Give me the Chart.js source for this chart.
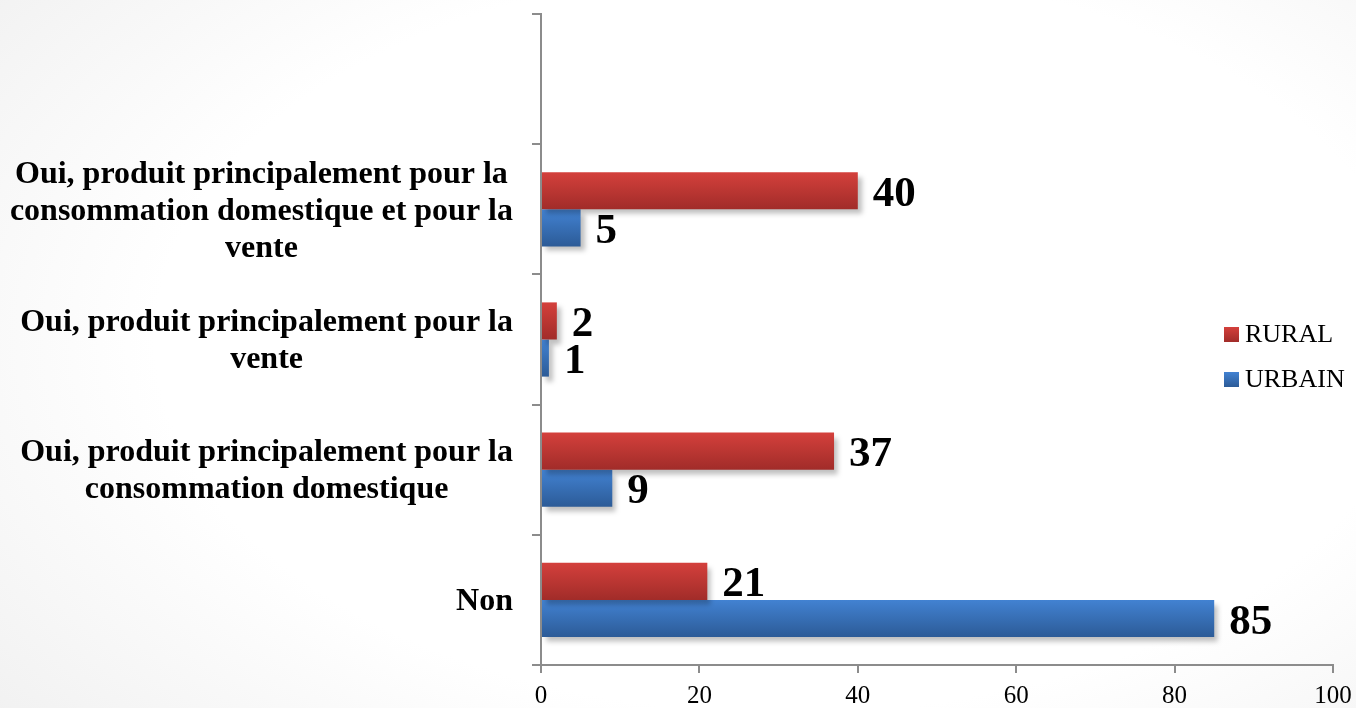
<!DOCTYPE html>
<html><head><meta charset="utf-8">
<script src="https://cdn.jsdelivr.net/npm/chart.js@4/dist/chart.umd.min.js"></script>
<style>
html,body{margin:0;padding:0;}
body{width:1356px;height:708px;background:radial-gradient(ellipse 75% 85% at 58% 48%, #ffffff 62%, #f1f1f1 100%);}
#wrap{width:1356px;height:708px;position:relative;}
</style></head>
<body><div id="wrap"><canvas id="c" width="1356" height="708"></canvas></div>
<script>
const categories = [
  "",
  ["Oui, produit principalement pour la", "consommation domestique et pour la", "vente"],
  ["Oui, produit principalement pour la", "vente"],
  ["Oui, produit principalement pour la", "consommation domestique"],
  "Non"
];
const seriesNames = ["RURAL", "URBAIN"];
const rural = [null, 40, 2, 37, 21];
const urbain = [null, 5, 1, 9, 85];
const xTicks = [0, 20, 40, 60, 80, 100];

const colors = {
  RURAL: ["#d4403c", "#a12c29"],
  URBAIN: ["#4282d2", "#2c5b97"]
};
const FONT = "'Liberation Serif','Times New Roman',serif";

const gradientPlugin = {
  id: 'grad',
  beforeDatasetsDraw(chart) {
    const ctx = chart.ctx;
    chart.data.datasets.forEach((ds, i) => {
      const meta = chart.getDatasetMeta(i);
      const c = colors[ds.label];
      meta.data.forEach(el => {
        if (el.skip) return;
        const top = el.y - el.height / 2, bot = el.y + el.height / 2;
        const g = ctx.createLinearGradient(0, top, 0, bot);
        g.addColorStop(0, c[0]); g.addColorStop(1, c[1]);
        const o = {};
        for (const k of Object.keys(el.options)) o[k] = el.options[k];
        o.borderSkipped = el.options.borderSkipped;
        o.borderWidth = el.options.borderWidth;
        o.borderColor = el.options.borderColor;
        o.borderRadius = el.options.borderRadius;
        o.inflateAmount = el.options.inflateAmount;
        o.backgroundColor = g;
        el.options = o;
      });
    });
  },
  beforeDatasetDraw(chart) {
    const ctx = chart.ctx;
    ctx.save();
    ctx.shadowColor = 'rgba(0,0,0,0.25)';
    ctx.shadowBlur = 5;
    ctx.shadowOffsetX = 4;
    ctx.shadowOffsetY = 5;
  },
  afterDatasetDraw(chart) { chart.ctx.restore(); }
};

const labelPlugin = {
  id: 'labels',
  afterDatasetsDraw(chart) {
    const ctx = chart.ctx;
    ctx.save();
    ctx.fillStyle = '#000';
    ctx.font = "bold 43px " + FONT;
    ctx.textAlign = 'left';
    ctx.textBaseline = 'middle';
    chart.data.datasets.forEach((ds, i) => {
      const meta = chart.getDatasetMeta(i);
      meta.data.forEach((el, j) => {
        const v = ds.data[j];
        if (v == null) return;
        ctx.fillText(String(v), el.x + 15, el.y + 4);
      });
    });
    // category labels
    const y = chart.scales.y;
    ctx.font = "bold 32px " + FONT;
    ctx.textAlign = 'center';
    const right = chart.chartArea.left - 28;
    const lh = 37;
    chart.data.labels.forEach((lab, i) => {
      const lines = Array.isArray(lab) ? lab : [lab];
      if (!lines.join('')) return;
      const w = Math.max(...lines.map(l => ctx.measureText(l).width));
      const cx = right - w / 2;
      const cy = y.getPixelForValue(i);
      const start = cy - (lines.length - 1) * lh / 2 + 2;
      lines.forEach((l, k) => ctx.fillText(l, cx, start + k * lh));
    });
    // legend
    ctx.font = "26px " + FONT;
    ctx.textAlign = 'left';
    seriesNames.forEach((n, k) => {
      const yy = 334 + k * 45;
      const g = ctx.createLinearGradient(0, yy - 7, 0, yy + 8);
      g.addColorStop(0, colors[n][0]); g.addColorStop(1, colors[n][1]);
      ctx.fillStyle = g;
      ctx.fillRect(1224, yy - 7, 15, 15);
      ctx.fillStyle = '#000';
      ctx.fillText(n, 1245, yy + 1);
    });
    ctx.restore();
  }
};

new Chart(document.getElementById('c'), {
  type: 'bar',
  data: {
    labels: categories,
    datasets: [
      { label: seriesNames[0], data: rural, backgroundColor: colors.RURAL[0] },
      { label: seriesNames[1], data: urbain, backgroundColor: colors.URBAIN[0] }
    ]
  },
  options: {
    indexAxis: 'y',
    responsive: false,
    animation: false,
    layout: { padding: { top: 14, right: 23, left: 0, bottom: 0 } },
    categoryPercentage: 0.57,
    barPercentage: 1.0,
    plugins: { legend: { display: false }, tooltip: { enabled: false } },
    scales: {
      x: {
        min: 0, max: 100,
        afterBuildTicks(s) { s.ticks = xTicks.map(v => ({ value: v })); },
        grid: { drawOnChartArea: false, drawTicks: true, tickLength: 8, color: '#8c8c8c', lineWidth: 2 },
        border: { color: '#8c8c8c', width: 2 },
        ticks: { color: '#000', font: { family: FONT, size: 25 }, padding: 8 },
        afterFit(s) { s.height = 43; s.paddingRight = 0; s.paddingLeft = 0; }
      },
      y: {
        grid: { drawOnChartArea: false, drawTicks: true, tickLength: 9, color: '#8c8c8c', lineWidth: 2, offset: true },
        border: { color: '#8c8c8c', width: 2 },
        ticks: { display: false },
        afterFit(s) { s.width = 541; }
      }
    }
  },
  plugins: [gradientPlugin, labelPlugin]
});
</script>
</body></html>
